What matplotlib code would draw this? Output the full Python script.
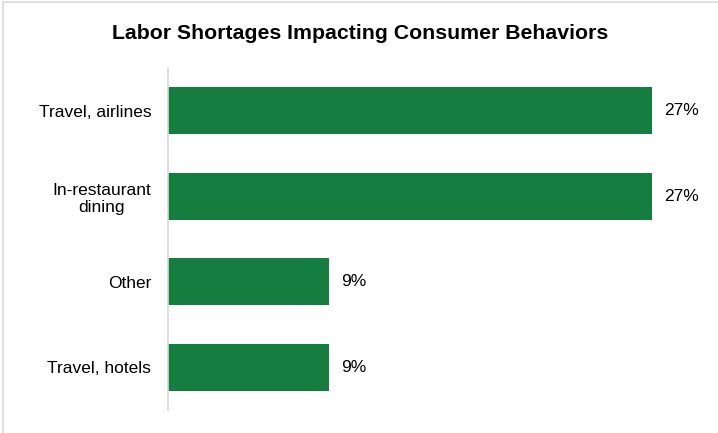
import matplotlib
matplotlib.use("Agg")
import matplotlib.pyplot as plt

categories = ["Travel, airlines", "In-restaurant\ndining", "Other", "Travel, hotels"]
shares = [27, 27, 9, 9]
value_labels = ["27%", "27%", "9%", "9%"]

GREEN = "#167d40"
GRID = "#d9d9d9"

plt.rcParams["font.family"] = ["Liberation Sans", "DejaVu Sans"]

fig = plt.figure(figsize=(7.18, 4.33), dpi=100)
fig.patch.set_facecolor("white")

# thin frame along the top and left edges
fig.add_artist(plt.Line2D([0.004, 0.004], [0, 0.995], transform=fig.transFigure,
                          color=GRID, linewidth=1.2))
fig.add_artist(plt.Line2D([0.004, 1], [0.995, 0.995], transform=fig.transFigure,
                          color=GRID, linewidth=1.2))

ax = fig.add_axes([0.234, 0.053, 0.749, 0.790])
y = range(len(categories))
ax.barh(y, shares, height=0.55, color=GREEN, edgecolor="none")

for i, (v, lab) in enumerate(zip(shares, value_labels)):
    ax.text(v + 0.65, i, lab, va="center", ha="left", fontsize=12.5, color="black")

ax.set_yticks(list(y))
ax.set_yticklabels(categories, fontsize=12.5, multialignment="center")
ax.set_ylim(3.5, -0.5)
ax.set_xlim(0, 30)
ax.set_xticks([])

for s in ["top", "right", "bottom"]:
    ax.spines[s].set_visible(False)
ax.spines["left"].set_color(GRID)
ax.spines["left"].set_linewidth(1.2)
ax.tick_params(axis="y", length=0, pad=12)

fig.text(0.502, 0.922, "Labor Shortages Impacting Consumer Behaviors",
         ha="center", va="center", fontsize=15.3, fontweight="bold")

fig.savefig("out.png", dpi=100, facecolor="white")
